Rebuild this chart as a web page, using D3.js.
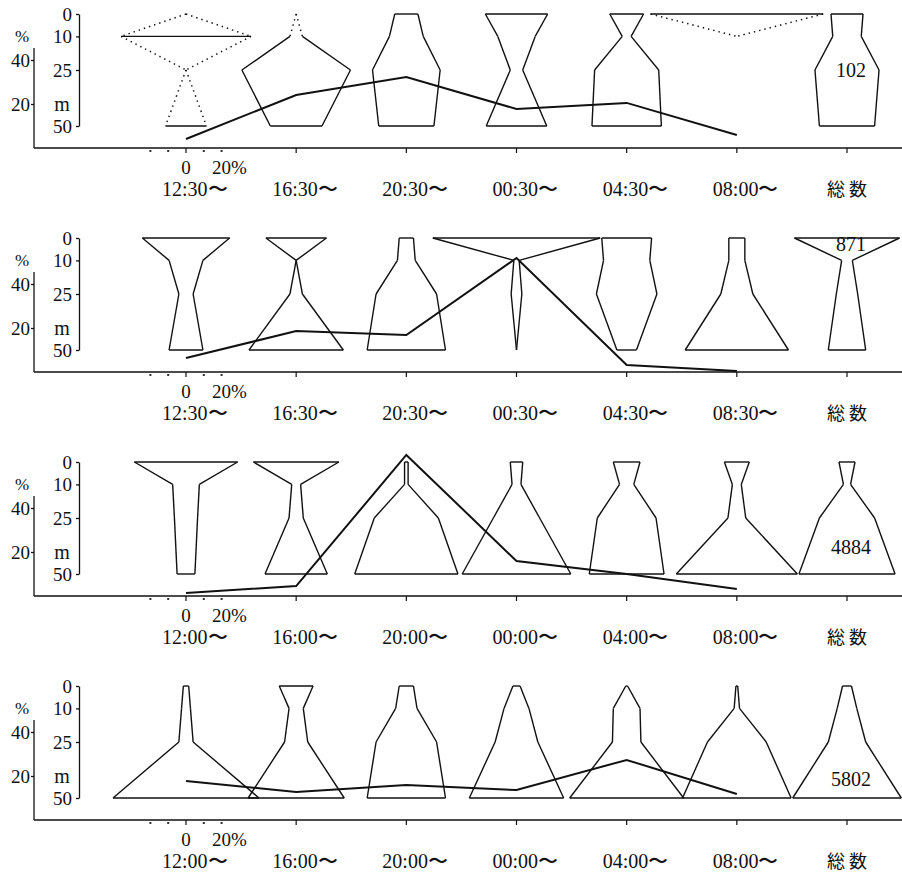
<!DOCTYPE html>
<html>
<head>
<meta charset="utf-8">
<script src="https://cdn.jsdelivr.net/npm/d3@7"></script>
<style>
  body { margin: 0; background: #fff; }
  svg text { font-family: "Liberation Serif", "DejaVu Serif", serif; fill: #111; }
  svg text.jp { font-family: "Noto Sans CJK JP", sans-serif; fill: #111; }
  .kite line { stroke: #111; stroke-width: 1.4; }
  .kite line.dotted { stroke-dasharray: 1.4, 4; stroke-width: 1.5; }
  .axis line, .axis path { stroke: #111; stroke-width: 1.3; fill: none; }
  .pct { fill: none; stroke: #111; stroke-width: 2; }
</style>
</head>
<body>
<svg id="chart" width="902" height="872"></svg>
<script>
// depth levels (m) where the width of each kite is read
var depths = [0, 10, 25, 50];
var depthTicks = [0, 10, 25, 50];
var pctTicks = [40, 20];

// time slot labels per panel (last column is the total)
var times1 = ['12:30〜', '16:30〜', '20:30〜', '00:30〜', '04:30〜', '08:00〜', '総 数'];
var times2 = ['12:30〜', '16:30〜', '20:30〜', '00:30〜', '04:30〜', '08:30〜', '総 数'];
var times3 = ['12:00〜', '16:00〜', '20:00〜', '00:00〜', '04:00〜', '08:00〜', '総 数'];
var times4 = ['12:00〜', '16:00〜', '20:00〜', '00:00〜', '04:00〜', '08:00〜', '総 数'];

// kite widths (% of catch) at depths 0, 10, 25, 50 m, one row per column
var kites1 = [[0, 73, 0, 23], [0, 7, 61, 29], [13, 19, 38, 31], [35, 21, 7, 34],
              [19, 5, 36, 39], [97, 0, 0, 0], [18, 16, 36, 31]];
var kites2 = [[49, 19, 8, 19], [34, 0, 7, 53], [8, 10, 34, 44], [94, 3, 6, 0],
              [28, 26, 34, 11], [9, 9, 18, 58], [59, 6, 12, 21]];
var kites3 = [[58, 15, 13, 10], [48, 5, 8, 35], [2, 2, 36, 58], [7, 5, 26, 61],
              [15, 8, 33, 42], [14, 5, 10, 68], [9, 4, 31, 54]];
var kites4 = [[3, 5, 8, 82], [19, 8, 13, 54], [8, 12, 34, 44], [4, 14, 24, 53],
              [1, 15, 16, 64], [1, 3, 33, 61], [5, 11, 21, 61]];

// which of the 3 depth segments are drawn dotted (only first panel has some)
var dots1 = [[1, 1, 1], [1, 0, 0], [0, 0, 0], [0, 0, 0], [0, 0, 0], [1, 0, 0], [0, 0, 0]];
var noDots = [[0, 0, 0], [0, 0, 0], [0, 0, 0], [0, 0, 0], [0, 0, 0], [0, 0, 0], [0, 0, 0]];

// share of catch (%) per time slot, the polyline
var pct1 = [4.1, 24.1, 32.3, 17.7, 20.5, 5.9];
var pct2 = [6.4, 18.6, 16.8, 51.8, 3.2, 0.5];
var pct3 = [1.4, 4.5, 64.1, 15.9, 10.0, 3.2];
var pct4 = [17.7, 12.7, 15.9, 13.6, 27.3, 11.8];

// totals
var totals = ['102', '871', '4884', '5802'];
var totalDepth = [28, 6, 41, 44.5];   // where the number sits inside the total kite

var panels = [
    {times: times1, kites: kites1, dots: dots1, pct: pct1},
    {times: times2, kites: kites2, dots: noDots, pct: pct2},
    {times: times3, kites: kites3, dots: noDots, pct: pct3},
    {times: times4, kites: kites4, dots: noDots, pct: pct4}
];

var svg = d3.select('#chart');
var panelStep = 224;

var x = d3.scalePoint().domain(d3.range(7)).range([186, 847]);
var halfW = d3.scaleLinear().domain([0, 100]).range([0, 89]);

function translateSVG(x, y) {
    return 'translate(' + x + ',' + y + ')';
}

function kiteSegments(w, dots, cx, y) {
    var segs = [];
    [-1, 1].forEach(function (s) {
        for (var j = 0; j < 3; j++) {
            if (w[j] === 0 && w[j + 1] === 0) continue;
            segs.push({x1: cx + s * halfW(w[j]), y1: y(depths[j]),
                       x2: cx + s * halfW(w[j + 1]), y2: y(depths[j + 1]), dotted: dots[j]});
        }
    });
    for (var j = 0; j < 4; j++) {
        if (w[j] === 0) continue;
        // closing lines at top/bottom, or between two dotted segments
        if (j === 0 || j === 3 || (dots[j - 1] && dots[j])) {
            segs.push({x1: cx - halfW(w[j]), y1: y(depths[j]),
                       x2: cx + halfW(w[j]), y2: y(depths[j]), dotted: 0});
        }
    }
    return segs;
}

function drawPanel(p, i) {
    var g = svg.append('g').attr('transform', translateSVG(0, i * panelStep));

    var yDepth = d3.scaleLinear().domain([0, 50]).range([14, 126]);
    var yPct = d3.scaleLinear().domain([0, 40]).range([148, 60]);

    // depth axis
    var da = g.append('g').classed('axis', true)
        .attr('transform', translateSVG(79, 0))
        .call(d3.axisLeft(yDepth).tickValues(depthTicks).tickSize(3).tickSizeOuter(0).tickPadding(4));
    da.selectAll('text').style('font-size', '19px');

    g.append('text').text('m')
        .attr('x', 62).attr('y', 111)
        .attr('text-anchor', 'middle').style('font-size', '20px');
    g.append('text').text('%')
        .attr('x', 22).attr('y', 42)
        .attr('text-anchor', 'middle').style('font-size', '17px');

    // percent axis
    g.append('line')
        .attr('x1', 34).attr('x2', 34).attr('y1', 48).attr('y2', 148)
        .style('stroke', '#111').style('stroke-width', 1.3);
    var pa = g.append('g').classed('axis', true)
        .attr('transform', translateSVG(34, 0))
        .call(d3.axisLeft(yPct).tickValues(pctTicks).tickSize(3).tickPadding(1));
    pa.select('.domain').remove();
    pa.selectAll('text').style('font-size', '19px');

    // time axis
    g.append('line')
        .attr('x1', 34).attr('x2', 902).attr('y1', 148).attr('y2', 148)
        .style('stroke', '#111').style('stroke-width', 1.3);
    g.append('g').selectAll('line')
        .data(d3.range(7))
        .enter()
        .append('line')
        .attr('x1', function (d) { return x(d); })
        .attr('x2', function (d) { return x(d); })
        .attr('y1', 148).attr('y2', 153)
        .style('stroke', '#111').style('stroke-width', 1.2);

    // width scale dots
    g.append('g').selectAll('rect')
        .data([-20, -10, 10, 20])
        .enter()
        .append('rect')
        .attr('x', function (d) { return x(0) + halfW(d * 2) - 1; })
        .attr('y', 150).attr('width', 2).attr('height', 2)
        .style('fill', '#333');

    g.append('text').text('0')
        .attr('x', x(0)).attr('y', 174)
        .attr('text-anchor', 'middle').style('font-size', '19px');
    g.append('text').text('20%')
        .attr('x', x(0) + 26).attr('y', 174)
        .style('font-size', '19px');

    g.append('g').selectAll('text')
        .data(p.times)
        .enter()
        .append('text')
        .attr('class', function (d, j) { return j === 6 ? 'jp' : null; })
        .text(function (d) { return d; })
        .attr('x', function (d, j) { return x(j) - (j === 6 ? 20 : 24); })
        .attr('y', 196)
        .style('font-size', function (d, j) { return j === 6 ? '18px' : '20px'; });

    // kites
    p.kites.forEach(function (w, j) {
        g.append('g').classed('kite', true)
            .selectAll('line')
            .data(kiteSegments(w, p.dots[j], x(j), yDepth))
            .enter()
            .append('line')
            .classed('dotted', function (d) { return d.dotted; })
            .attr('x1', function (d) { return d.x1; })
            .attr('y1', function (d) { return d.y1; })
            .attr('x2', function (d) { return d.x2; })
            .attr('y2', function (d) { return d.y2; });
    });

    // total count
    g.append('text').text(totals[i])
        .attr('x', x(6) + 4).attr('y', yDepth(totalDepth[i]))
        .attr('text-anchor', 'middle').style('font-size', '20px');

    // percent line
    var line = d3.line()
        .x(function (d, j) { return x(j); })
        .y(function (d) { return yPct(d); });
    g.append('path').classed('pct', true)
        .datum(p.pct)
        .attr('d', line);
}

panels.forEach(drawPanel);
</script>
</body>
</html>
